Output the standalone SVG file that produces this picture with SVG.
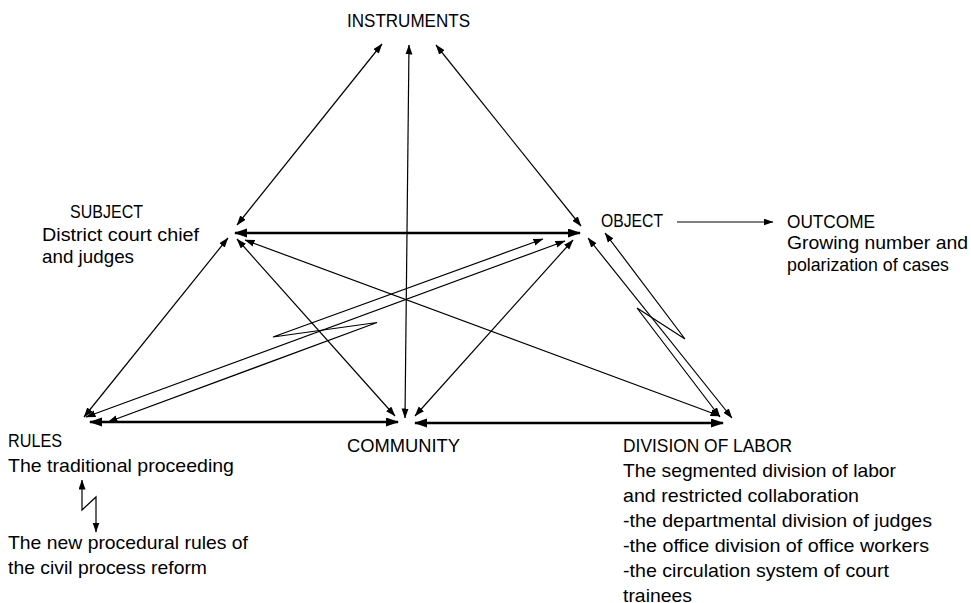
<svg xmlns="http://www.w3.org/2000/svg" width="971" height="603" viewBox="0 0 971 603">
<style>
  text { font-family: "Liberation Sans", Arial, sans-serif; font-size: 19px; fill: #000; }
  .c { fill: none; stroke: #000; stroke-width: 1.2; }
  .t { fill: none; stroke: #000; stroke-width: 2.6; }
</style>
<defs>
  <marker id="a" markerUnits="userSpaceOnUse" markerWidth="10" markerHeight="8" refX="9.5" refY="3.5" orient="auto-start-reverse">
    <path d="M0,0 L10,3.5 L0,7 z" fill="#000"/>
  </marker>
  <marker id="b" markerUnits="userSpaceOnUse" markerWidth="13" markerHeight="10" refX="12" refY="4.5" orient="auto-start-reverse">
    <path d="M0,0 L13,4.5 L0,9 z" fill="#000"/>
  </marker>
</defs>
<rect width="971" height="603" fill="#fff"/>

<g id="connectors">
  <line class="c" x1="382" y1="44" x2="237" y2="225" marker-start="url(#a)" marker-end="url(#a)"/>
  <line class="c" x1="409" y1="45" x2="405" y2="418" marker-start="url(#a)" marker-end="url(#a)"/>
  <line class="c" x1="436" y1="45" x2="581" y2="226" marker-start="url(#a)" marker-end="url(#a)"/>
  <line class="c" x1="228" y1="238" x2="84" y2="417" marker-start="url(#a)" marker-end="url(#a)"/>
  <line class="c" x1="237" y1="239" x2="395" y2="416" marker-start="url(#a)" marker-end="url(#a)"/>
  <line class="c" x1="245" y1="240" x2="720" y2="416" marker-start="url(#a)" marker-end="url(#a)"/>
  <line class="c" x1="415" y1="416" x2="573" y2="240" marker-start="url(#a)" marker-end="url(#a)"/>
  <line class="c" x1="86" y1="417" x2="565" y2="241" marker-start="url(#a)" marker-end="url(#a)"/>
  <polyline class="c" points="108,422 377,322.5 273,337 543,239" marker-start="url(#a)" marker-end="url(#a)"/>
  <line class="c" x1="588" y1="238" x2="732" y2="418" marker-start="url(#a)" marker-end="url(#a)"/>
  <polyline class="c" points="605,233 685,339 637,308 720,417" marker-start="url(#a)" marker-end="url(#a)"/>
  <line class="c" x1="677" y1="222" x2="773" y2="222" marker-end="url(#a)"/>
  <polyline class="c" points="82,480 82,510 96,497 96,532" marker-start="url(#a)" marker-end="url(#a)"/>
  <line class="t" x1="235" y1="233" x2="580" y2="233" marker-start="url(#b)" marker-end="url(#b)"/>
  <line class="t" x1="90" y1="422" x2="398" y2="422" marker-start="url(#b)" marker-end="url(#b)"/>
  <line class="t" x1="415" y1="423" x2="723" y2="423" marker-start="url(#b)" marker-end="url(#b)"/>
</g>

<g id="node-instruments">
  <text x="347" y="27" textLength="123" lengthAdjust="spacingAndGlyphs">INSTRUMENTS</text>
</g>
<g id="node-subject">
  <text x="70" y="218" textLength="73" lengthAdjust="spacingAndGlyphs">SUBJECT</text>
  <text x="42" y="241" textLength="157" lengthAdjust="spacingAndGlyphs">District court chief</text>
  <text x="42" y="263" textLength="92" lengthAdjust="spacingAndGlyphs">and judges</text>
</g>
<g id="node-object">
  <text x="601" y="227" textLength="62" lengthAdjust="spacingAndGlyphs">OBJECT</text>
</g>
<g id="node-outcome">
  <text x="787" y="227.5" textLength="88" lengthAdjust="spacingAndGlyphs">OUTCOME</text>
  <text x="787" y="249" textLength="181" lengthAdjust="spacingAndGlyphs">Growing number and</text>
  <text x="787" y="270.5" textLength="162" lengthAdjust="spacingAndGlyphs">polarization of cases</text>
</g>
<g id="node-rules">
  <text x="8" y="447" textLength="54" lengthAdjust="spacingAndGlyphs">RULES</text>
  <text x="8" y="472" textLength="226" lengthAdjust="spacingAndGlyphs">The traditional proceeding</text>
</g>
<g id="node-new-rules">
  <text x="8" y="549" textLength="240" lengthAdjust="spacingAndGlyphs">The new procedural rules of</text>
  <text x="8" y="574" textLength="199" lengthAdjust="spacingAndGlyphs">the civil process reform</text>
</g>
<g id="node-community">
  <text x="347" y="451.5" textLength="113" lengthAdjust="spacingAndGlyphs">COMMUNITY</text>
</g>
<g id="node-division">
  <text x="623" y="451.5" textLength="169" lengthAdjust="spacingAndGlyphs">DIVISION OF LABOR</text>
  <text x="623" y="476.5" textLength="273" lengthAdjust="spacingAndGlyphs">The segmented division of labor</text>
  <text x="623" y="501.5" textLength="236" lengthAdjust="spacingAndGlyphs">and restricted collaboration</text>
  <text x="623" y="526.5" textLength="309" lengthAdjust="spacingAndGlyphs">-the departmental division of judges</text>
  <text x="623" y="551.5" textLength="306" lengthAdjust="spacingAndGlyphs">-the office division of office workers</text>
  <text x="623" y="576.5" textLength="266" lengthAdjust="spacingAndGlyphs">-the circulation system of court</text>
  <text x="623" y="601.5" textLength="69" lengthAdjust="spacingAndGlyphs">trainees</text>
</g>
</svg>
